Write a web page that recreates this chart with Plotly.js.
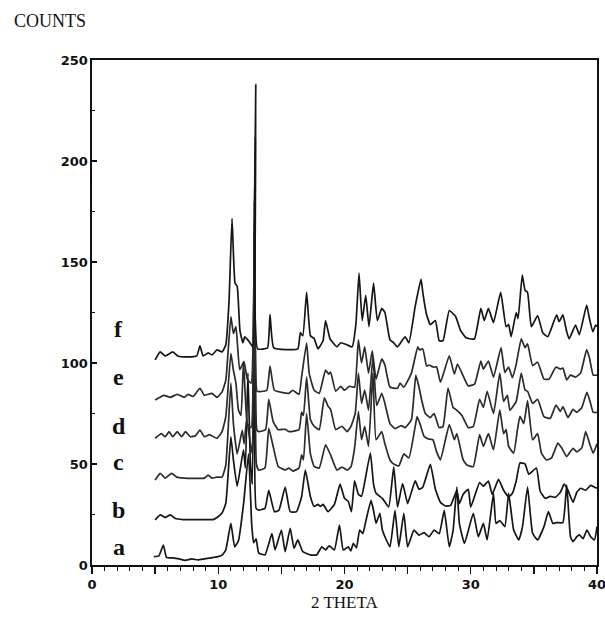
<!DOCTYPE html>
<html>
<head>
<meta charset="utf-8">
<script src="https://cdn.plot.ly/plotly-3.0.1.min.js"></script>
<style>
  html, body { margin: 0; padding: 0; background: #fff; }
  #chart { width: 605px; height: 620px; }
</style>
</head>
<body>
<div id="chart"></div>
<script>
// Each pattern: [2theta, counts] vertices
const patternA = [[4.9,4.1],[5.3,4.5],[5.65,9.9],[5.9,3.8],[6.4,3.5],[6.9,3],[7.4,2.3],[7.9,3],[8.4,2.5],[8.9,3],[9.4,3.5],[9.9,4],[10.3,4.9],[10.6,7.5],[11.0,20.6],[11.3,9],[11.6,12],[12.0,30],[12.4,55],[12.65,20],[12.8,11],[13.0,13],[13.2,6],[13.7,5],[14.25,15.5],[14.5,7.5],[15.0,17.3],[15.3,6.6],[15.7,18.2],[16.0,8.3],[16.3,12.4],[16.7,6.6],[17.3,5],[17.8,5],[18.2,9],[18.5,7.5],[18.8,9.5],[19.2,7.5],[19.6,19.8],[19.9,7.4],[20.3,9],[20.5,7],[20.7,10.7],[20.95,8.5],[21.2,17.3],[21.45,15.5],[21.7,22],[22.1,32],[22.3,27],[22.5,20.6],[22.8,25.6],[23.0,17.3],[23.2,14],[23.6,9],[24.0,27],[24.3,9],[24.7,25.6],[25.0,9],[25.5,17.3],[25.9,14.8],[26.3,16],[26.7,14],[27.1,17.3],[27.5,15.5],[27.9,27],[28.3,9],[28.6,17],[28.9,38.6],[29.1,20.6],[29.5,10.7],[30.2,25.6],[30.6,14],[31.0,20.6],[31.3,12.4],[31.8,35.5],[32.0,20.6],[32.3,22],[32.7,19],[33.0,35.5],[33.4,17.3],[33.8,12.4],[34.1,19],[34.5,38.6],[34.9,15.7],[35.3,12.4],[35.8,19],[36.15,26.4],[36.5,20.6],[36.8,21],[37.3,21],[37.6,39.6],[37.9,14],[38.1,11.6],[38.4,14],[38.6,14.9],[38.9,13],[39.2,17.3],[39.5,14],[39.8,12.4],[40.0,19]];

const patternB = [[5.0,22.3],[5.4,24.8],[5.8,23.5],[6.2,24.8],[6.6,23],[7.2,22.5],[8.5,22.5],[9.6,22.5],[9.9,23.5],[10.3,25.7],[10.6,30.6],[11.0,63.5],[11.2,52],[11.5,39],[12.0,57],[12.15,48],[12.35,95],[12.55,50],[12.7,40],[12.85,165],[13.0,28],[13.2,27.2],[13.7,28],[14.0,37],[14.45,26.4],[14.8,27],[15.3,38.6],[15.7,26.4],[16.2,26.4],[16.6,33.8],[16.9,47],[17.3,33.8],[17.6,29],[17.9,30],[18.1,29],[18.3,30],[18.7,26.4],[19.2,30],[19.65,40],[20.0,33],[20.3,31.5],[20.55,26.4],[20.8,41.6],[21.1,35],[21.35,34],[21.6,41],[22.05,55.4],[22.3,40],[22.5,35.5],[23.0,33],[23.5,28.7],[23.9,48.6],[24.2,28.7],[24.6,40.3],[25.0,30.4],[25.2,34],[25.6,41.6],[25.9,37.5],[26.2,38.5],[26.8,49.8],[27.2,37.5],[27.6,31],[28.0,29.2],[28.4,29.5],[28.9,37],[29.1,30.4],[29.4,35],[29.8,37.5],[30.0,28.7],[30.7,40.8],[31.0,39],[31.4,41.6],[31.7,35],[32.2,42.4],[32.6,37],[33.0,33.8],[33.3,35.5],[33.6,41.6],[33.9,50.5],[34.3,50],[34.6,44.9],[35.2,48],[35.5,36.5],[35.9,33],[36.3,34],[36.7,33.5],[37.1,36],[37.4,40],[37.7,37],[38.1,31],[38.4,36],[38.7,38],[39.1,37],[39.5,39.4],[39.8,38.5],[40.0,38]];

const patternC = [[5.0,42],[5.4,45.4],[5.8,43],[6.3,45.4],[6.7,43.5],[7.3,43],[8.9,43],[9.2,44.5],[9.5,43],[9.9,43.5],[10.3,43.5],[10.6,49.5],[11.0,90],[11.2,70],[11.5,55],[11.9,66.6],[12.05,60],[12.25,72],[12.55,60],[12.7,55],[12.87,180],[13.02,50],[13.2,47],[13.7,48],[14.0,67.6],[14.35,58.7],[14.75,48.8],[15.3,47],[15.6,48],[15.9,46.5],[16.4,48],[16.6,54.5],[16.75,52],[17.0,75],[17.3,55],[17.6,48.7],[18.0,48],[18.5,59.5],[18.9,54.5],[19.4,47],[19.8,48.5],[20.2,47],[20.5,48.5],[20.8,58],[21.1,76],[21.35,62],[21.6,68.6],[21.9,58.7],[22.25,95],[22.5,62],[22.95,66],[23.2,60],[23.6,52],[23.9,50],[24.3,49],[24.7,55],[25.1,53],[25.6,68.6],[25.75,73.5],[26.0,69.5],[26.3,63.7],[26.6,62.5],[27.0,62],[27.3,56],[27.6,52],[28.3,69.5],[28.7,62],[28.9,65],[29.4,52],[29.7,49.5],[30.2,48.7],[30.7,64.5],[31.0,58.7],[31.4,65],[31.8,57],[32.3,76.8],[32.6,65],[32.8,67],[33.0,58.7],[33.4,55.4],[33.7,67],[33.9,73.6],[34.2,70],[34.5,81.4],[34.9,62],[35.3,65],[35.6,55.4],[36.0,52],[36.4,53],[36.9,60.4],[37.2,58],[37.6,53.7],[38.1,57.8],[38.4,56],[38.8,58],[39.1,66],[39.4,60.4],[39.7,55.4],[40.0,60]];

const patternD = [[5.0,62.7],[5.5,65],[5.8,63.5],[6.1,66],[6.4,63.5],[6.75,66],[7.1,63.5],[7.4,66],[7.8,63.5],[8.2,64],[8.55,66.8],[8.9,63.5],[9.3,64.5],[9.9,62.7],[10.3,66],[10.6,73.5],[11.0,104.8],[11.2,96.5],[11.4,90],[11.6,76.7],[11.8,74],[12.0,100.7],[12.3,70],[12.6,68],[12.9,195],[13.05,67],[13.2,66],[13.75,67],[14.0,82],[14.35,71],[14.75,67],[15.3,67.2],[15.6,66],[16.4,67],[16.6,75.7],[16.75,74],[17.0,93],[17.3,72],[17.6,68.7],[18.0,67],[18.4,82.7],[18.7,78.6],[18.9,77],[19.3,67],[19.8,68.7],[20.2,66],[20.5,68.5],[20.85,75],[21.1,95],[21.35,80],[21.6,86.6],[21.9,76.7],[22.25,103],[22.55,79],[22.95,85],[23.2,80],[23.6,70],[24.0,67.5],[24.5,69],[24.8,68],[25.3,72],[25.65,94],[25.9,88],[26.1,82],[26.4,75],[26.8,73],[27.1,75],[27.5,68],[27.8,68.5],[28.2,87.6],[28.6,78],[28.9,76.6],[29.3,74],[29.8,68],[30.2,68.5],[30.7,82],[31.0,78],[31.3,86],[31.8,75],[32.3,95],[32.6,81],[32.9,84],[33.1,76.6],[33.6,81],[34.0,95],[34.3,86.6],[34.5,86],[34.9,80],[35.3,82],[35.8,73.4],[36.3,72.6],[36.75,79.2],[37.1,76],[37.3,78.4],[37.7,73],[38.1,77],[38.4,75.6],[38.8,78],[39.2,85.5],[39.45,81],[39.7,75.6],[40.0,75.6]];

const patternE = [[5.0,81.7],[5.7,84],[6.2,83],[6.75,84.5],[7.3,83],[7.6,84.5],[8.0,83.4],[8.55,87.5],[8.9,84],[9.5,85],[9.9,83],[10.3,85.7],[10.6,91.5],[11.0,123],[11.2,114.6],[11.4,118],[11.7,96.7],[12.04,100.7],[12.3,92],[12.6,90],[12.93,212],[13.07,86],[13.3,85.8],[13.85,86.5],[14.1,98.5],[14.45,86.5],[15.6,85],[15.9,86.5],[16.4,84.5],[16.6,93],[17.0,110],[17.2,95],[17.6,86.5],[18.0,85],[18.5,96.5],[18.75,94.5],[18.9,95.5],[19.3,86],[19.7,88.4],[20.0,86.5],[20.4,88.5],[20.8,88],[21.1,111.4],[21.35,100],[21.6,108],[21.9,95],[22.2,106],[22.5,92],[22.95,102],[23.2,99],[23.6,88],[24.2,87.5],[24.4,90],[24.7,88],[25.3,95],[25.8,108],[25.95,106.5],[26.2,107],[26.5,98.5],[26.7,99],[27.0,98],[27.3,98],[27.6,90.5],[28.3,103.6],[28.7,94.5],[28.95,99.5],[29.4,93.6],[29.8,88.7],[30.3,89.5],[30.8,101],[31.0,97],[31.4,101],[31.8,93],[32.4,107.6],[32.7,95.3],[33.0,98],[33.3,92.7],[33.6,99.3],[34.0,112],[34.3,107.6],[34.5,109.5],[34.9,98.7],[35.3,100.4],[35.8,92],[36.2,92],[36.75,98],[37.1,97],[37.3,97.5],[37.6,91.6],[37.9,94],[38.3,93],[38.7,95],[39.18,106.6],[39.4,102.6],[39.7,94],[40.0,94]];

const patternF = [[5.0,101.5],[5.4,105.5],[5.8,103.5],[6.4,105.5],[6.8,103.5],[7.5,103],[8.3,103.5],[8.55,108.5],[8.8,103.5],[9.2,105],[9.5,104],[9.9,106.5],[10.3,105.5],[10.6,109],[10.85,130],[11.09,171.5],[11.33,139.5],[11.5,138],[11.72,116],[11.95,110],[12.1,113],[12.4,111],[12.75,108],[12.97,238],[13.12,107],[13.9,107.5],[14.1,124],[14.4,107.5],[16.3,107],[16.5,115],[16.7,113.5],[17.0,135],[17.3,113.5],[17.6,112],[17.9,107],[18.3,111],[18.5,121],[18.85,112],[19.4,108],[19.7,110],[20.2,109],[20.6,108],[20.9,119],[21.15,144.5],[21.4,121],[21.68,133.5],[21.94,118],[22.3,139.5],[22.6,121],[22.95,127],[23.2,125],[23.6,111.5],[23.9,110],[24.2,108],[24.8,113],[25.1,110],[25.6,128],[26.06,141.5],[26.2,135],[26.5,124],[26.8,119],[27.2,121],[27.5,111],[27.8,111],[28.3,126],[28.8,123],[29.2,116],[29.6,112.6],[29.9,112],[30.3,112],[30.8,127],[31.07,121],[31.4,127],[31.8,120],[32.37,135],[32.8,118],[33.0,119],[33.2,113],[33.6,125],[33.75,122],[34.08,143.5],[34.3,136],[34.5,135],[34.8,118],[35.3,123.5],[35.7,115],[36.1,113],[36.8,123.8],[37.0,120.5],[37.3,123.8],[37.6,115.5],[37.8,112],[38.3,118.8],[38.6,114],[39.18,128.7],[39.4,122],[39.67,115.5],[39.9,118.8],[40.0,118]];

const sampleLabels = ['a','b','c','d','e','f'];
const labelLevels = [9, 27, 51, 69, 93, 117];
const patterns = [patternA, patternB, patternC, patternD, patternE, patternF];
const xTickVals = [0,5,10,15,20,25,30,35,40];
const xTickText = ['0','','10','','20','','30','','40'];
const yTickVals = [0,50,100,150,200,250];

const traces = patterns.map((p, i) => ({
  type: 'scatter',
  mode: 'lines',
  x: p.map(v => v[0]),
  y: p.map(v => v[1]),
  line: { color: i >= 2 && i <= 4 ? '#2b2b2b' : '#151515', width: 1.7, shape: 'spline', smoothing: 0.4 },
  hoverinfo: 'skip',
  showlegend: false
}));

const serif = 'Liberation Serif, Times New Roman, serif';
const annotations = sampleLabels.map((s, i) => ({
  x: 2.1, y: labelLevels[i], xref: 'x', yref: 'y',
  text: s, showarrow: false,
  font: { family: serif, size: 24, color: '#111', weight: 'bold' },
  xanchor: 'center', yanchor: 'middle'
}));
annotations.push({
  x: -0.158, y: 1.077, xref: 'paper', yref: 'paper',
  text: 'COUNTS', showarrow: false, xanchor: 'left', yanchor: 'middle',
  font: { family: serif, size: 18, color: '#111' }
});
annotations.push({
  x: 0.501, y: -0.075, xref: 'paper', yref: 'paper',
  text: '2 THETA', showarrow: false, xanchor: 'center', yanchor: 'middle',
  font: { family: serif, size: 17, color: '#111' }
});

const tickFont = { family: 'DejaVu Sans, Arial, sans-serif', size: 13, color: '#111', weight: 'bold' };

const layout = {
  width: 605, height: 620,
  margin: { l: 92, r: 8, t: 60, b: 55 },
  paper_bgcolor: '#fff', plot_bgcolor: '#fff',
  showlegend: false,
  xaxis: {
    range: [0, 40], tickvals: xTickVals, ticktext: xTickText,
    ticks: 'outside', ticklen: 7, tickwidth: 1.4, tickcolor: '#111',
    minor: { dtick: 1, ticks: 'outside', ticklen: 4, tickwidth: 1, tickcolor: '#111' },
    showline: true, mirror: true, linecolor: '#111', linewidth: 1.6,
    showgrid: false, zeroline: false,
    ticklabeloverflow: 'allow',
    tickfont: tickFont
  },
  yaxis: {
    range: [0, 250], tickvals: yTickVals,
    ticks: 'inside', ticklen: 5, tickwidth: 1.4, tickcolor: '#111',
    minor: { dtick: 25, ticks: 'inside', ticklen: 3, tickwidth: 1, tickcolor: '#111' },
    showline: true, mirror: true, linecolor: '#111', linewidth: 1.6,
    showgrid: false, zeroline: false,
    ticklabeloverflow: 'allow',
    tickfont: tickFont
  },
  annotations: annotations
};

Plotly.newPlot('chart', traces, layout, { staticPlot: true, displayModeBar: false });
</script>
</body>
</html>
